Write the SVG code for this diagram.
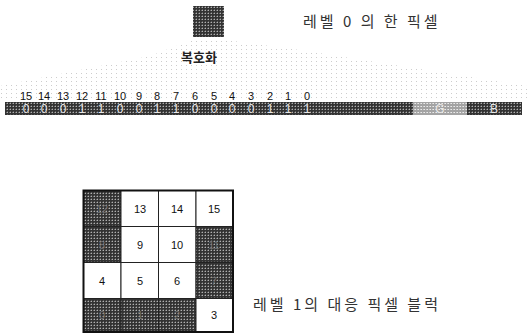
<svg xmlns="http://www.w3.org/2000/svg" width="527" height="334" viewBox="0 0 527 334">
<defs>
<pattern id="dark" width="3" height="3" patternUnits="userSpaceOnUse">
<rect width="3" height="3" fill="#333"/>
<rect x="1" y="1" width="1" height="1" fill="#b0b0b0"/>
<rect x="0" y="1" width="1" height="1" fill="#6a6a6a"/>
<rect x="1" y="0" width="1" height="1" fill="#5a5a5a"/>
</pattern>
<pattern id="light" width="3" height="3" patternUnits="userSpaceOnUse">
<rect width="3" height="3" fill="#a4a4a4"/>
<rect x="1" y="1" width="1" height="1" fill="#ececec"/>
<rect x="0" y="1" width="1" height="1" fill="#cfcfcf"/>
</pattern>
<pattern id="dots" width="5" height="4" patternUnits="userSpaceOnUse">
<rect x="1" y="1" width="1" height="1" fill="#cdcdcd"/>
</pattern>
</defs>
<style>
.t{font-family:"Noto Sans CJK KR","Noto Sans",sans-serif;fill:#333;letter-spacing:3px}
.n{font-family:"Liberation Sans",Arial,sans-serif;font-size:11px;fill:#111;text-anchor:middle}
.b{font-family:"Liberation Sans",Arial,sans-serif;font-size:12px;fill:#e8e8e8;text-anchor:middle}
.c{font-family:"Liberation Sans",Arial,sans-serif;font-size:11px;fill:#111;text-anchor:middle}
.h{font-family:"Liberation Sans",Arial,sans-serif;font-size:11px;fill:#6e6e6e;text-anchor:middle}
.cell{stroke:#222;stroke-width:1}
</style>

<g id="fan">
<polygon points="192,40 226,40 300,50 527,86 527,100 0,100 0,86 150,56" fill="url(#dots)"/>
</g>

<g id="pixel0">
<rect x="193" y="6" width="31" height="31" fill="url(#dark)"/>
<text class="t" x="303" y="27" font-size="15">레벨 0 의 한 픽셀</text>
</g>

<g id="decode">
<text x="199" y="62" font-family="Noto Sans CJK KR, Noto Sans, sans-serif" font-size="13" font-weight="bold" fill="#222" text-anchor="middle">복호화</text>
</g>

<g id="bitindex">
<text class="n" x="26" y="100">15</text>
<text class="n" x="44" y="100">14</text>
<text class="n" x="63" y="100">13</text>
<text class="n" x="82" y="100">12</text>
<text class="n" x="101" y="100">11</text>
<text class="n" x="120" y="100">10</text>
<text class="n" x="139" y="100">9</text>
<text class="n" x="157" y="100">8</text>
<text class="n" x="176" y="100">7</text>
<text class="n" x="195" y="100">6</text>
<text class="n" x="214" y="100">5</text>
<text class="n" x="232" y="100">4</text>
<text class="n" x="251" y="100">3</text>
<text class="n" x="270" y="100">2</text>
<text class="n" x="288" y="100">1</text>
<text class="n" x="307" y="100">0</text>
</g>

<g id="bitbar">
<rect x="5" y="102" width="408" height="13" fill="url(#dark)"/>
<rect x="413" y="102" width="54" height="13" fill="url(#light)"/>
<rect x="467" y="102" width="55" height="13" fill="url(#dark)"/>
<text class="b" x="26" y="113">0</text>
<text class="b" x="44" y="113">0</text>
<text class="b" x="63" y="113">0</text>
<text class="b" x="82" y="113">1</text>
<text class="b" x="101" y="113">1</text>
<text class="b" x="120" y="113">0</text>
<text class="b" x="139" y="113">0</text>
<text class="b" x="157" y="113">1</text>
<text class="b" x="176" y="113">1</text>
<text class="b" x="195" y="113">0</text>
<text class="b" x="214" y="113">0</text>
<text class="b" x="232" y="113">0</text>
<text class="b" x="251" y="113">0</text>
<text class="b" x="270" y="113">1</text>
<text class="b" x="288" y="113">1</text>
<text class="b" x="307" y="113">1</text>
<text class="b" x="440" y="113" fill="#fff">G</text>
<text class="b" x="494" y="113">B</text>
</g>

<g id="block1">
<rect class="cell" x="83.5" y="190.5" width="37.5" height="36" fill="url(#dark)"/>
<rect class="cell" x="121" y="190.5" width="37.5" height="36" fill="#fff"/>
<rect class="cell" x="158.5" y="190.5" width="37.5" height="36" fill="#fff"/>
<rect class="cell" x="196" y="190.5" width="37" height="36" fill="#fff"/>
<rect class="cell" x="83.5" y="226.5" width="37.5" height="36" fill="url(#dark)"/>
<rect class="cell" x="121" y="226.5" width="37.5" height="36" fill="#fff"/>
<rect class="cell" x="158.5" y="226.5" width="37.5" height="36" fill="#fff"/>
<rect class="cell" x="196" y="226.5" width="37" height="36" fill="url(#dark)"/>
<rect class="cell" x="83.5" y="262.5" width="37.5" height="36" fill="#fff"/>
<rect class="cell" x="121" y="262.5" width="37.5" height="36" fill="#fff"/>
<rect class="cell" x="158.5" y="262.5" width="37.5" height="36" fill="#fff"/>
<rect class="cell" x="196" y="262.5" width="37" height="36" fill="url(#dark)"/>
<rect class="cell" x="83.5" y="298.5" width="37.5" height="33.5" fill="url(#dark)"/>
<rect class="cell" x="121" y="298.5" width="37.5" height="33.5" fill="url(#dark)"/>
<rect class="cell" x="158.5" y="298.5" width="37.5" height="33.5" fill="url(#dark)"/>
<rect class="cell" x="196" y="298.5" width="37" height="33.5" fill="#fff"/>
<rect x="83.5" y="190.5" width="149.5" height="141.5" fill="none" stroke="#111" stroke-width="2"/>
<text class="h" x="102" y="213">12</text>
<text class="c" x="140" y="213">13</text>
<text class="c" x="177" y="213">14</text>
<text class="c" x="214" y="213">15</text>
<text class="h" x="102" y="249">8</text>
<text class="c" x="140" y="249">9</text>
<text class="c" x="177" y="249">10</text>
<text class="h" x="214" y="249">11</text>
<text class="c" x="102" y="285">4</text>
<text class="c" x="140" y="285">5</text>
<text class="c" x="177" y="285">6</text>
<text class="h" x="214" y="285">7</text>
<text class="h" x="102" y="319">0</text>
<text class="h" x="140" y="319">1</text>
<text class="h" x="177" y="319">2</text>
<text class="c" x="214" y="319">3</text>
<text class="t" x="253" y="310" font-size="15">레벨 1의 대응 픽셀 블럭</text>
</g>
</svg>
